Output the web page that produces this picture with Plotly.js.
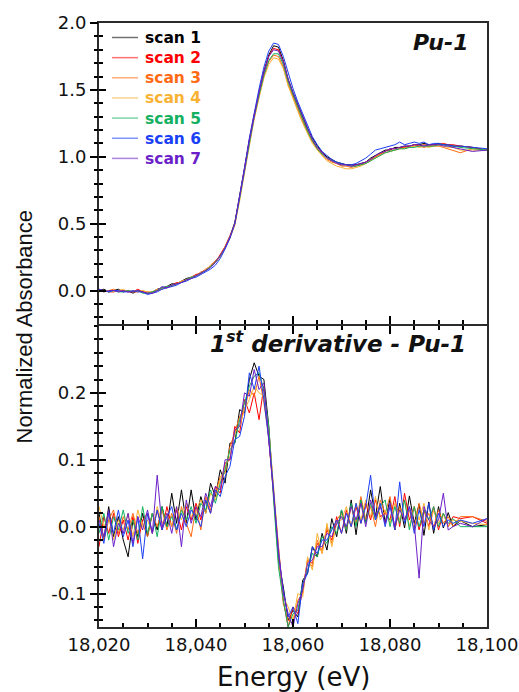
<!DOCTYPE html>
<html><head><meta charset="utf-8">
<script src="https://cdn.plot.ly/plotly-3.0.1.min.js"></script>
<style>html,body{margin:0;padding:0;background:#fff}#chart{width:519px;height:692px}</style>
</head><body><div id="chart"></div>
<script>
const scanNames = ['scan 1','scan 2','scan 3','scan 4','scan 5','scan 6','scan 7'];
const scanColors = ['#000000','#ff0000','#ff6a13','#f9b233','#12b060','#1a3ff5','#6a1fc8'];
const topLabel = 'Pu-1';
const bottomLabel = '1<sup>st</sup> derivative - Pu-1';
const xTitle = 'Energy (eV)';
const yTitle = 'Normalized Absorbance';
const topTickVals = [0, 0.5, 1, 1.5, 2];
const topTickText = ['0.0','0.5','1.0','1.5','2.0'];
const botTickVals = [-0.1, 0, 0.1, 0.2];
const botTickText = ['-0.1','0.0','0.1','0.2'];

const energy = [18020,18021,18022,18023,18024,18025,18026,18027,18028,18029,
18030,18031,18032,18033,18034,18035,18036,18037,18038,18039,
18040,18041,18042,18043,18044,18045,18046,18047,18048,18049,
18050,18051,18052,18053,18054,18055,18056,18057,18058,18059,
18060,18061,18062,18063,18064,18065,18066,18067,18068,18069,
18070,18071,18072,18073,18074,18075,18076,18077,18078,18079,
18080,18081,18082,18083,18084,18085,18086,18087,18088,18089,
18090,18091,18092,18093,18094.5,18097,18100];

const abs1 = [0.00,0.01,-0.01,0.00,0.01,-0.01,0.00,-0.02,0.00,-0.01,
-0.02,-0.01,0.01,0.02,0.03,0.05,0.05,0.07,0.09,0.10,
0.11,0.13,0.15,0.18,0.22,0.26,0.32,0.40,0.51,0.70,
0.91,1.12,1.31,1.48,1.64,1.76,1.83,1.82,1.72,1.58,
1.48,1.39,1.30,1.21,1.14,1.08,1.03,1.00,0.98,0.96,
0.95,0.94,0.94,0.94,0.95,0.96,0.99,1.01,1.03,1.05,
1.05,1.07,1.07,1.08,1.08,1.09,1.09,1.10,1.09,1.09,
1.10,1.09,1.09,1.08,1.08,1.07,1.05];
const abs2 = [0.01,0.00,-0.01,-0.01,0.00,0.00,-0.01,-0.01,0.01,-0.01,
-0.01,-0.02,0.00,0.01,0.03,0.04,0.06,0.06,0.08,0.10,
0.12,0.13,0.16,0.18,0.21,0.27,0.33,0.41,0.50,0.70,
0.92,1.13,1.32,1.48,1.63,1.75,1.81,1.80,1.71,1.57,
1.46,1.37,1.28,1.19,1.12,1.07,1.03,0.99,0.97,0.96,
0.94,0.94,0.93,0.94,0.94,0.96,0.98,1.00,1.02,1.04,
1.06,1.06,1.07,1.07,1.08,1.09,1.08,1.09,1.08,1.09,
1.09,1.10,1.09,1.09,1.08,1.07,1.05];
const abs3 = [0.00,-0.01,0.00,0.01,-0.01,0.00,0.00,-0.01,-0.01,0.00,
-0.02,-0.01,0.00,0.02,0.02,0.04,0.05,0.07,0.08,0.09,
0.11,0.14,0.15,0.19,0.22,0.26,0.33,0.40,0.49,0.68,
0.89,1.10,1.29,1.45,1.60,1.71,1.76,1.75,1.67,1.54,
1.44,1.35,1.26,1.18,1.11,1.06,1.01,0.98,0.96,0.95,
0.93,0.93,0.92,0.93,0.94,0.95,0.97,1.00,1.02,1.03,
1.04,1.05,1.06,1.07,1.07,1.08,1.08,1.07,1.08,1.08,
1.08,1.07,1.06,1.05,1.03,1.06,1.05];
const abs4 = [-0.01,0.00,0.00,-0.01,0.00,0.01,-0.01,0.00,-0.01,0.00,
-0.01,-0.01,0.01,0.01,0.03,0.03,0.05,0.07,0.08,0.10,
0.11,0.12,0.16,0.18,0.21,0.25,0.32,0.39,0.49,0.67,
0.88,1.09,1.28,1.44,1.59,1.69,1.74,1.73,1.66,1.53,
1.43,1.34,1.25,1.17,1.10,1.05,1.01,0.97,0.95,0.93,
0.92,0.91,0.91,0.92,0.93,0.95,0.97,0.99,1.01,1.03,
1.04,1.05,1.06,1.06,1.07,1.08,1.07,1.08,1.07,1.08,
1.08,1.08,1.07,1.07,1.05,1.05,1.05];
const abs5 = [0.00,0.00,-0.01,0.00,-0.01,-0.01,0.00,-0.01,0.00,-0.02,
-0.02,-0.01,0.00,0.02,0.03,0.04,0.05,0.06,0.08,0.10,
0.11,0.13,0.15,0.18,0.21,0.26,0.32,0.40,0.50,0.69,
0.90,1.11,1.30,1.46,1.61,1.72,1.77,1.77,1.69,1.56,
1.46,1.37,1.28,1.19,1.12,1.06,1.02,0.99,0.97,0.96,
0.94,0.94,0.93,0.93,0.94,0.95,0.97,0.99,1.01,1.03,
1.04,1.05,1.06,1.06,1.07,1.07,1.08,1.08,1.08,1.08,
1.09,1.09,1.08,1.08,1.07,1.06,1.05];
const abs6 = [0.01,0.00,-0.01,0.00,0.00,-0.01,-0.01,0.00,-0.01,-0.01,
-0.03,-0.02,-0.01,0.01,0.02,0.03,0.04,0.06,0.07,0.09,
0.10,0.12,0.14,0.16,0.19,0.24,0.31,0.39,0.50,0.70,
0.92,1.14,1.34,1.51,1.67,1.79,1.85,1.84,1.75,1.62,
1.51,1.41,1.32,1.23,1.15,1.09,1.04,1.01,0.98,0.96,
0.95,0.94,0.94,0.95,0.97,0.99,1.02,1.05,1.06,1.07,
1.08,1.09,1.11,1.09,1.10,1.11,1.10,1.11,1.09,1.10,
1.10,1.09,1.09,1.08,1.08,1.07,1.06];
const abs7 = [0.00,-0.01,0.00,0.00,-0.01,0.00,-0.01,-0.01,0.00,-0.01,
-0.02,-0.02,0.00,0.03,0.02,0.04,0.05,0.06,0.08,0.09,
0.11,0.13,0.15,0.17,0.21,0.26,0.32,0.40,0.50,0.69,
0.90,1.12,1.31,1.48,1.63,1.75,1.80,1.79,1.71,1.58,
1.48,1.39,1.30,1.21,1.13,1.07,1.03,0.99,0.97,0.95,
0.94,0.94,0.93,0.94,0.95,0.96,0.98,1.01,1.03,1.04,
1.06,1.06,1.07,1.08,1.08,1.09,1.09,1.08,1.09,1.09,
1.09,1.08,1.08,1.07,1.06,1.04,1.05];

const der1 = [0.020,-0.020,0.030,-0.015,0.015,-0.020,-0.045,0.010,-0.015,0.020,
-0.015,0.020,-0.005,0.030,0.000,0.050,0.005,0.055,0.005,0.055,
0.010,0.045,0.020,0.065,0.045,0.085,0.065,0.125,0.125,0.175,
0.170,0.220,0.245,0.225,0.220,0.150,0.050,-0.050,-0.090,-0.140,
-0.125,-0.135,-0.080,-0.070,-0.030,-0.045,-0.010,-0.035,0.012,-0.015,
0.025,-0.010,0.040,-0.012,0.040,0.007,0.055,0.015,0.060,0.005,
0.042,-0.005,0.035,-0.002,0.046,0.005,0.034,-0.013,0.037,-0.010,
0.030,-0.002,0.021,0.000,0.009,0.000,0.003];
const der2 = [-0.030,0.015,-0.010,0.020,-0.015,0.010,-0.020,0.015,-0.025,0.010,
0.020,-0.010,0.025,-0.005,0.030,0.000,0.025,-0.005,0.030,0.010,
0.035,0.010,0.040,0.020,0.060,0.050,0.095,0.100,0.150,0.140,
0.190,0.170,0.200,0.160,0.210,0.130,0.060,-0.030,-0.110,-0.150,
-0.120,-0.130,-0.095,-0.050,-0.055,-0.025,-0.035,-0.005,-0.020,0.015,
-0.010,0.025,0.000,0.030,0.005,0.035,0.010,0.040,0.015,0.020,
0.010,0.045,0.000,0.050,0.010,0.030,-0.005,0.025,0.000,0.030,
-0.005,0.020,0.000,0.015,0.012,0.015,0.005];
const der3 = [0.015,-0.020,0.010,0.025,-0.010,0.015,-0.005,0.020,-0.010,0.005,
-0.015,0.020,0.000,0.025,-0.005,0.020,-0.010,0.030,0.005,-0.015,
0.030,-0.005,0.045,0.025,0.050,0.075,0.080,0.120,0.140,0.165,
0.175,0.205,0.195,0.225,0.185,0.135,0.045,-0.045,-0.115,-0.140,
-0.145,-0.110,-0.100,-0.050,-0.060,-0.020,-0.040,0.000,-0.025,0.010,
0.020,-0.005,0.030,0.005,0.045,0.010,0.030,0.000,0.040,0.020,
0.045,-0.005,0.030,0.010,0.025,-0.005,0.035,0.005,0.020,0.000,
0.025,0.005,0.015,0.000,0.015,0.015,0.008];
const der4 = [0.030,0.000,0.015,-0.020,0.010,-0.005,0.020,-0.015,0.025,0.000,
0.010,-0.010,0.030,0.005,0.020,0.000,0.030,0.010,0.035,0.015,
0.025,0.040,0.020,0.050,0.040,0.070,0.090,0.105,0.140,0.150,
0.175,0.190,0.210,0.200,0.195,0.145,0.060,-0.030,-0.105,-0.120,
-0.140,-0.100,-0.105,-0.045,-0.065,-0.010,-0.040,0.005,-0.030,0.005,
0.010,0.030,0.000,0.035,0.010,0.040,0.015,0.045,0.010,0.025,
0.005,0.035,0.010,0.040,0.000,0.030,0.010,0.035,-0.005,0.025,
0.005,0.020,0.000,0.010,0.008,0.005,0.003];
const der5 = [-0.010,0.020,-0.020,0.015,-0.005,0.025,-0.010,0.010,-0.020,0.030,
-0.010,0.020,-0.015,0.030,0.000,0.015,-0.005,0.025,0.010,0.030,
0.005,0.035,0.025,0.055,0.035,0.065,0.085,0.115,0.125,0.160,
0.185,0.210,0.225,0.230,0.205,0.150,0.040,-0.060,-0.110,-0.150,
-0.130,-0.125,-0.085,-0.065,-0.040,-0.045,-0.015,-0.025,0.000,-0.010,
0.025,-0.005,0.035,0.000,0.040,0.005,0.035,0.010,0.030,0.040,
0.000,0.030,0.005,0.040,-0.005,0.030,0.000,0.025,0.010,0.030,
0.000,0.020,0.005,0.012,0.000,0.000,0.000];
const der6 = [0.005,-0.025,0.020,-0.010,0.025,-0.015,0.010,-0.030,0.015,-0.048,
0.020,-0.010,0.025,-0.005,0.015,0.030,-0.005,0.020,0.000,0.025,
0.015,0.000,0.040,0.020,0.055,0.045,0.075,0.090,0.130,0.135,
0.165,0.230,0.205,0.240,0.190,0.130,0.055,-0.040,-0.095,-0.135,
-0.120,-0.145,-0.085,-0.070,-0.030,-0.040,-0.020,-0.020,-0.005,0.010,
-0.010,0.020,0.000,0.035,0.005,0.030,0.077,0.010,0.035,0.000,
0.030,-0.005,0.067,0.005,0.030,-0.010,0.025,0.000,0.035,-0.005,
0.020,0.000,0.010,0.005,0.010,0.005,0.012];
const der7 = [0.010,-0.015,0.025,-0.030,0.005,-0.010,0.020,-0.025,0.015,-0.005,
0.025,-0.010,0.077,0.000,0.020,-0.010,0.030,-0.030,0.040,0.005,
0.030,0.015,0.050,0.030,0.060,0.055,0.100,0.100,0.145,0.150,
0.200,0.195,0.235,0.205,0.215,0.135,0.045,-0.035,-0.100,-0.130,
-0.150,-0.115,-0.095,-0.055,-0.050,-0.030,-0.030,-0.010,-0.015,0.005,
0.015,0.000,0.030,0.010,0.035,0.000,0.040,0.015,0.030,0.005,
0.035,0.000,0.025,0.010,0.030,0.005,-0.077,0.030,0.010,0.000,
0.010,0.050,-0.005,0.000,0.005,0.000,0.012];

const absScans = [abs1,abs2,abs3,abs4,abs5,abs6,abs7];
const derScans = [der1,der2,der3,der4,der5,der6,der7];

// layout geometry (px)
const W = 519, H = 692, L = 99, R = 32, T = 23, B = 65;
const pw = W - L - R, ph = H - T - B;
const px2x = p => (p - L) / pw;
const py2y = p => (H - B - p) / ph;
const onePx = 1 / ph; // 1px gap so the two outside-drawn frame lines coincide

const traces = [];
absScans.forEach((s, k) => traces.push({
  x: energy, y: s, xaxis: 'x2', yaxis: 'y', type: 'scatter', mode: 'lines',
  line: {color: scanColors[k], width: 1}, showlegend: false, hoverinfo: 'skip'
}));
derScans.forEach((s, k) => traces.push({
  x: energy, y: s, xaxis: 'x', yaxis: 'y2', type: 'scatter', mode: 'lines',
  line: {color: scanColors[k], width: 1}, showlegend: false, hoverinfo: 'skip'
}));
// invisible helpers so that the tick-only overlay axes get their subplots
[['x2','y3'],['x2','y5'],['x2','y6'],['x4','y'],['x','y4'],['x','y7'],['x','y8'],['x3','y2']].forEach(p => traces.push({
  x: [energy[0]], y: [0], xaxis: p[0], yaxis: p[1], type: 'scatter', mode: 'markers',
  marker: {opacity: 0, size: 1}, showlegend: false, hoverinfo: 'skip'
}));

const tickFont = {family: 'DejaVu Sans', size: 18, color: '#111'};
const lineCol = '#2b2b2b';
const tickCol = '#000';
const xRange = [18020, 18100];
const topRange = [-0.25, 2.0];
const botRange = [-0.15, 0.3];
const MAJ = 8, MIN = 4, TW = 2;

function tickAxis(extra) {
  return Object.assign({showgrid: false, zeroline: false, showline: false, showticklabels: false,
    tickwidth: TW, tickcolor: tickCol}, extra);
}

const layout = {
  width: W, height: H,
  margin: {l: L, r: R, t: T, b: B},
  paper_bgcolor: '#fff', plot_bgcolor: 'rgba(0,0,0,0)',
  showlegend: false,
  // bottom panel x axis (labels)
  xaxis: {anchor: 'y2', domain: [0, 1], range: xRange, showgrid: false, zeroline: false,
    showline: true, linecolor: lineCol, linewidth: 2, mirror: 'ticks',
    ticks: 'inside', ticklen: MAJ, tickwidth: TW, tickcolor: tickCol,
    tickmode: 'linear', dtick: 20, tick0: 18020, tickformat: ',d',
    tickfont: tickFont},
  xaxis3: tickAxis({anchor: 'y2', overlaying: 'x', range: xRange, ticks: 'inside', ticklen: MIN,
    tickmode: 'linear', dtick: 5, tick0: 18020, mirror: 'ticks', showline: true, linecolor: lineCol, linewidth: 2}),
  // top panel x axis (no labels)
  xaxis2: {anchor: 'y', domain: [0, 1], range: xRange, showgrid: false, zeroline: false,
    showline: true, linecolor: lineCol, linewidth: 2, mirror: true, showticklabels: false,
    ticks: 'inside', ticklen: MAJ, tickwidth: TW, tickcolor: tickCol,
    tickmode: 'linear', dtick: 20, tick0: 18020},
  xaxis4: tickAxis({anchor: 'y', overlaying: 'x2', range: xRange, ticks: 'inside', ticklen: MIN,
    tickmode: 'linear', dtick: 5, tick0: 18020}),
  // top panel y axes
  yaxis: {anchor: 'x2', domain: [0.5 + onePx, 1], range: topRange,
    showgrid: false, zeroline: false, showline: true, mirror: true,
    linecolor: lineCol, linewidth: 2,
    tickmode: 'array', tickvals: topTickVals, ticktext: topTickText,
    ticks: 'outside', ticklen: MAJ - 1, tickwidth: TW, tickcolor: tickCol, tickfont: tickFont},
  yaxis3: tickAxis({anchor: 'x2', overlaying: 'y', side: 'left', range: topRange,
    tickmode: 'array', tickvals: topTickVals, ticks: 'inside', ticklen: MAJ - 1}),
  yaxis5: tickAxis({anchor: 'x2', overlaying: 'y', side: 'left', range: topRange,
    tickmode: 'linear', dtick: 0.1, tick0: 0, ticks: 'outside', ticklen: MIN}),
  yaxis6: tickAxis({anchor: 'x2', overlaying: 'y', side: 'left', range: topRange,
    tickmode: 'linear', dtick: 0.1, tick0: 0, ticks: 'inside', ticklen: MIN}),
  // bottom panel y axes
  yaxis2: {anchor: 'x', domain: [0, 0.5 - onePx], range: botRange,
    showgrid: false, zeroline: false, showline: true, mirror: true,
    linecolor: lineCol, linewidth: 2,
    tickmode: 'array', tickvals: botTickVals, ticktext: botTickText,
    ticks: 'outside', ticklen: MAJ - 1, tickwidth: TW, tickcolor: tickCol, tickfont: tickFont},
  yaxis4: tickAxis({anchor: 'x', overlaying: 'y2', side: 'left', range: botRange,
    tickmode: 'array', tickvals: botTickVals, ticks: 'inside', ticklen: MAJ - 1}),
  yaxis7: tickAxis({anchor: 'x', overlaying: 'y2', side: 'left', range: botRange,
    tickmode: 'linear', dtick: 0.02, tick0: 0, ticks: 'outside', ticklen: MIN}),
  yaxis8: tickAxis({anchor: 'x', overlaying: 'y2', side: 'left', range: botRange,
    tickmode: 'linear', dtick: 0.02, tick0: 0, ticks: 'inside', ticklen: MIN}),
  shapes: [],
  annotations: []
};

const legendFontSize = 15.5;
const legendLineH = legendFontSize * 1.3;
const legendTop = 37.5;
const legendText = scanNames.map((n, k) =>
  '<span style="color:' + scanColors[k] + '">' + n + '</span>').join('<br>');

layout.shapes = scanColors.map((c, k) => ({
  type: 'line', xref: 'paper', yref: 'paper',
  x0: px2x(112), x1: px2x(138),
  y0: py2y(legendTop + k * legendLineH), y1: py2y(legendTop + k * legendLineH),
  line: {color: c, width: 1.5}, opacity: 0.55
}));

layout.annotations = [
  {text: legendText, xref: 'paper', yref: 'paper', x: px2x(143), y: py2y(legendTop - legendLineH / 2),
   xanchor: 'left', yanchor: 'top', align: 'left', showarrow: false,
   font: {family: 'DejaVu Sans', size: legendFontSize, weight: 'bold'}},
  {text: topLabel, xref: 'paper', yref: 'paper', x: px2x(470), y: py2y(42),
   xanchor: 'right', yanchor: 'middle', showarrow: false,
   font: {family: 'DejaVu Sans', size: 22, weight: 'bold', style: 'italic', color: '#111'}},
  {text: bottomLabel, xref: 'paper', yref: 'paper', x: px2x(468), y: py2y(342),
   xanchor: 'right', yanchor: 'middle', showarrow: false,
   font: {family: 'DejaVu Sans', size: 23, weight: 'bold', style: 'italic', color: '#111'}},
  {text: xTitle, xref: 'paper', yref: 'paper', x: 0.5, y: py2y(677),
   xanchor: 'center', yanchor: 'middle', showarrow: false,
   font: {family: 'DejaVu Sans', size: 26, color: '#111'}},
  {text: yTitle, xref: 'paper', yref: 'paper', x: px2x(24), y: py2y(326.5),
   xanchor: 'center', yanchor: 'middle', showarrow: false, textangle: -90,
   font: {family: 'Liberation Sans', size: 22, color: '#111'}}
];

Plotly.newPlot('chart', traces, layout, {displayModeBar: false});
</script>
</body></html>
